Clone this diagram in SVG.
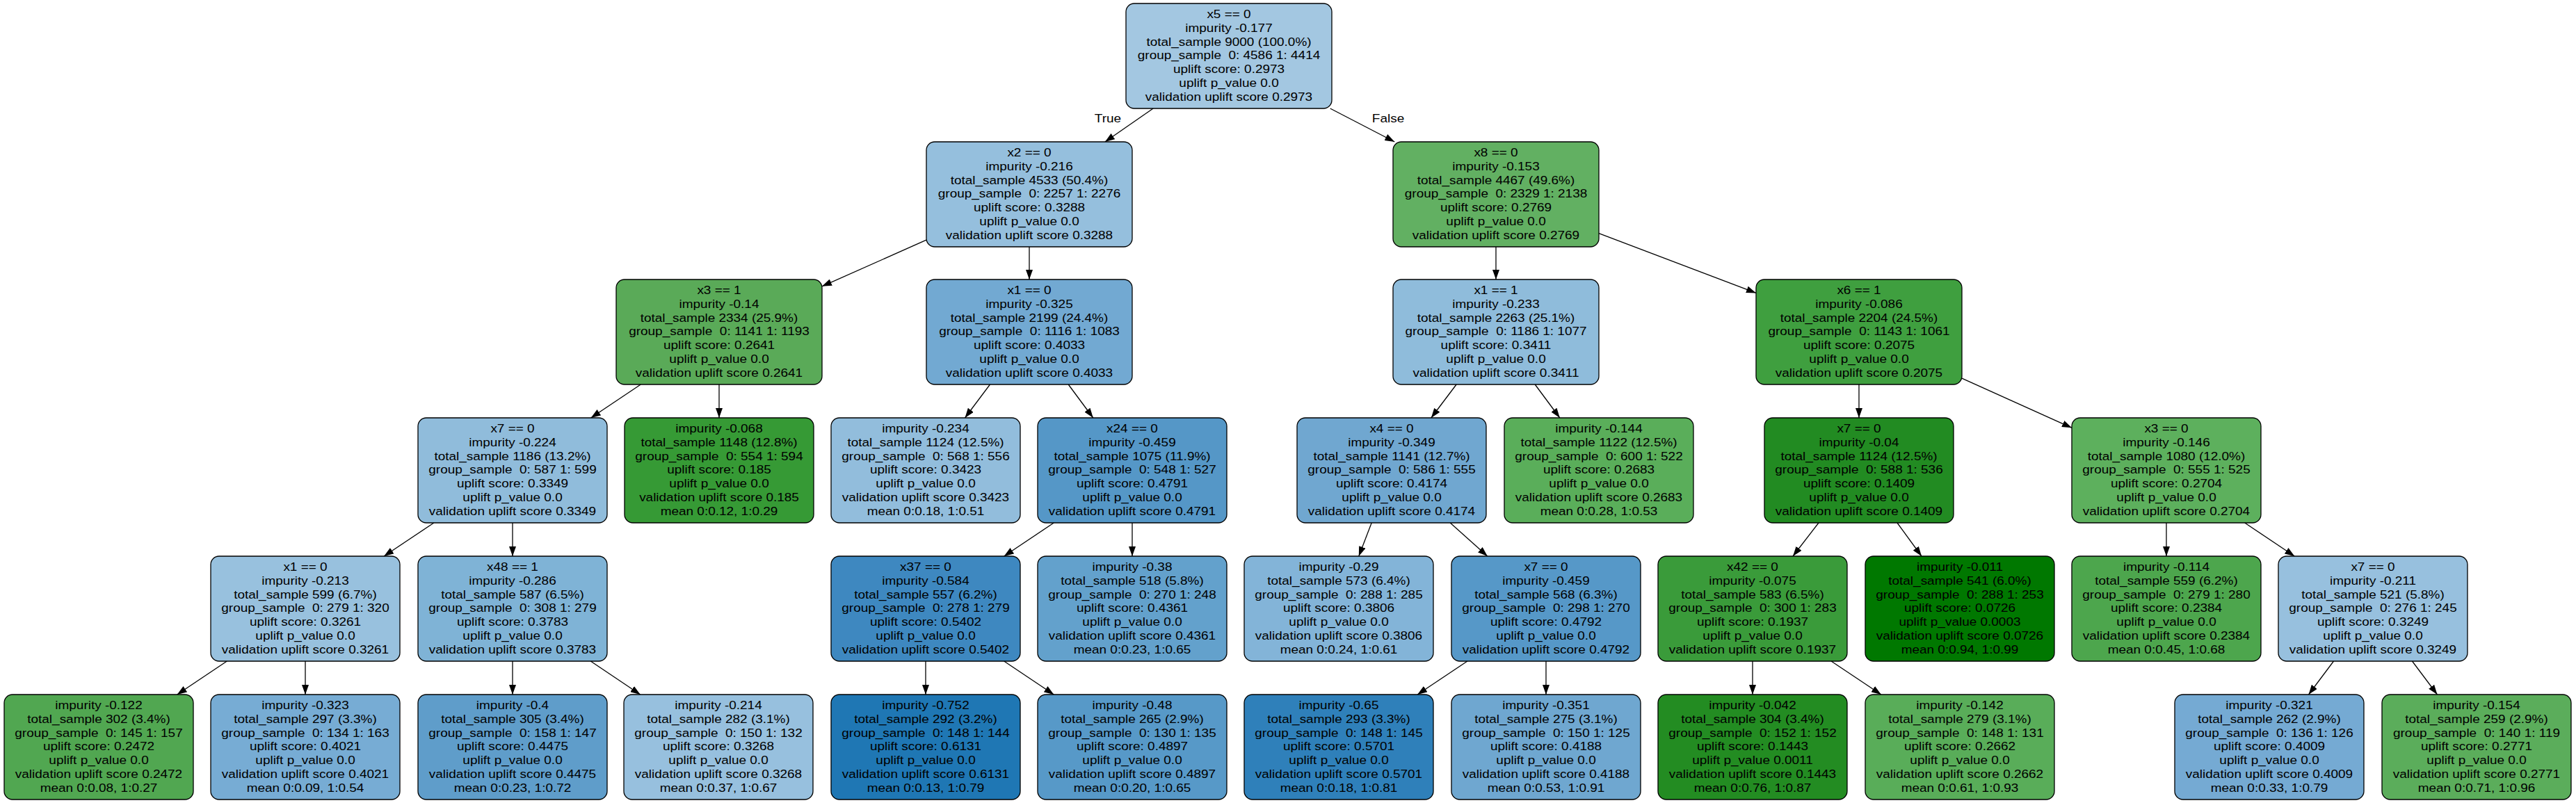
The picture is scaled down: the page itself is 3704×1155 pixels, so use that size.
<svg xmlns="http://www.w3.org/2000/svg" width="3704" height="1155" viewBox="0 0 3704 1155">
<style>
.node rect{stroke:#000;stroke-width:1.3}
text{font-family:"Liberation Sans",Arial,sans-serif;font-size:16.5px;fill:#000;text-anchor:middle;white-space:pre}
.edge{stroke:#000;stroke-width:1.3;fill:none;marker-end:url(#arr)}
</style>
<defs>
<marker id="arr" viewBox="0 0 14 10" refX="14" refY="5" markerWidth="14" markerHeight="10" markerUnits="userSpaceOnUse" orient="auto"><path d="M0,0 L14,5 L0,10 z" fill="#000"/></marker>
</defs>
<rect width="3704" height="1155" fill="#fff"/>
<g id="connectors">
<path class="edge" d="M1658.1,156 L1588.9,204"/>
<path class="edge" d="M1912.7,156 L2005.3,204"/>
<path class="edge" d="M1332,345.2 L1182,411.8"/>
<path class="edge" d="M1480,355 L1480,402"/>
<path class="edge" d="M2151,355 L2151,402"/>
<path class="edge" d="M2299,335.6 L2525,421.4"/>
<path class="edge" d="M921.3,553 L849.7,601"/>
<path class="edge" d="M1034,553 L1034,601"/>
<path class="edge" d="M1423.5,553 L1387.5,601"/>
<path class="edge" d="M1536.2,553 L1571.8,601"/>
<path class="edge" d="M2094.1,553 L2057.9,601"/>
<path class="edge" d="M2207.2,553 L2242.8,601"/>
<path class="edge" d="M2673,553 L2673,601"/>
<path class="edge" d="M2821,544.1 L2979,615.3"/>
<path class="edge" d="M623.9,752 L552.1,800"/>
<path class="edge" d="M737,752 L737,800"/>
<path class="edge" d="M1515.3,752 L1443.7,800"/>
<path class="edge" d="M1628,752 L1628,800"/>
<path class="edge" d="M1972.2,752 L1953.8,800"/>
<path class="edge" d="M2085.2,752 L2138.8,800"/>
<path class="edge" d="M2615,752 L2578,800"/>
<path class="edge" d="M2728,752 L2763,800"/>
<path class="edge" d="M3115,752 L3115,800"/>
<path class="edge" d="M3227.7,752 L3299.3,800"/>
<path class="edge" d="M326.3,951 L254.7,999"/>
<path class="edge" d="M439,951 L439,999"/>
<path class="edge" d="M737,951 L737,999"/>
<path class="edge" d="M849.3,951 L920.7,999"/>
<path class="edge" d="M1331,951 L1331,999"/>
<path class="edge" d="M1443.7,951 L1515.3,999"/>
<path class="edge" d="M2109.9,951 L2038.1,999"/>
<path class="edge" d="M2223,951 L2223,999"/>
<path class="edge" d="M2520,951 L2520,999"/>
<path class="edge" d="M2633.1,951 L2704.9,999"/>
<path class="edge" d="M3355.5,951 L3319.5,999"/>
<path class="edge" d="M3468.5,951 L3504.5,999"/>
<text transform="translate(1593,0) scale(1.15,1)" x="0" y="176">True</text>
<text transform="translate(1996,0) scale(1.15,1)" x="0" y="176">False</text>
</g>
<g id="n0" class="node"><rect x="1619" y="5" width="296" height="151" rx="12" fill="#a3c7e1"/><text transform="translate(1767,0) scale(1.15,1)"><tspan x="0" y="26">x5 == 0</tspan><tspan x="0" y="45.8">impurity -0.177</tspan><tspan x="0" y="65.6">total_sample 9000 (100.0%)</tspan><tspan x="0" y="85.4">group_sample  0: 4586 1: 4414</tspan><tspan x="0" y="105.2">uplift score: 0.2973</tspan><tspan x="0" y="125">uplift p_value 0.0</tspan><tspan x="0" y="144.8">validation uplift score 0.2973</tspan></text></g>
<g id="n1" class="node"><rect x="1332" y="204" width="296" height="151" rx="12" fill="#95bfdd"/><text transform="translate(1480,0) scale(1.15,1)"><tspan x="0" y="225">x2 == 0</tspan><tspan x="0" y="244.8">impurity -0.216</tspan><tspan x="0" y="264.6">total_sample 4533 (50.4%)</tspan><tspan x="0" y="284.4">group_sample  0: 2257 1: 2276</tspan><tspan x="0" y="304.2">uplift score: 0.3288</tspan><tspan x="0" y="324">uplift p_value 0.0</tspan><tspan x="0" y="343.8">validation uplift score 0.3288</tspan></text></g>
<g id="n2" class="node"><rect x="2003" y="204" width="296" height="151" rx="12" fill="#62b062"/><text transform="translate(2151,0) scale(1.15,1)"><tspan x="0" y="225">x8 == 0</tspan><tspan x="0" y="244.8">impurity -0.153</tspan><tspan x="0" y="264.6">total_sample 4467 (49.6%)</tspan><tspan x="0" y="284.4">group_sample  0: 2329 1: 2138</tspan><tspan x="0" y="304.2">uplift score: 0.2769</tspan><tspan x="0" y="324">uplift p_value 0.0</tspan><tspan x="0" y="343.8">validation uplift score 0.2769</tspan></text></g>
<g id="n3" class="node"><rect x="886" y="402" width="296" height="151" rx="12" fill="#5aaa58"/><text transform="translate(1034,0) scale(1.15,1)"><tspan x="0" y="423">x3 == 1</tspan><tspan x="0" y="442.8">impurity -0.14</tspan><tspan x="0" y="462.6">total_sample 2334 (25.9%)</tspan><tspan x="0" y="482.4">group_sample  0: 1141 1: 1193</tspan><tspan x="0" y="502.2">uplift score: 0.2641</tspan><tspan x="0" y="522">uplift p_value 0.0</tspan><tspan x="0" y="541.8">validation uplift score 0.2641</tspan></text></g>
<g id="n4" class="node"><rect x="1332" y="402" width="296" height="151" rx="12" fill="#72a9d2"/><text transform="translate(1480,0) scale(1.15,1)"><tspan x="0" y="423">x1 == 0</tspan><tspan x="0" y="442.8">impurity -0.325</tspan><tspan x="0" y="462.6">total_sample 2199 (24.4%)</tspan><tspan x="0" y="482.4">group_sample  0: 1116 1: 1083</tspan><tspan x="0" y="502.2">uplift score: 0.4033</tspan><tspan x="0" y="522">uplift p_value 0.0</tspan><tspan x="0" y="541.8">validation uplift score 0.4033</tspan></text></g>
<g id="n5" class="node"><rect x="2003" y="402" width="296" height="151" rx="12" fill="#8fbcdb"/><text transform="translate(2151,0) scale(1.15,1)"><tspan x="0" y="423">x1 == 1</tspan><tspan x="0" y="442.8">impurity -0.233</tspan><tspan x="0" y="462.6">total_sample 2263 (25.1%)</tspan><tspan x="0" y="482.4">group_sample  0: 1186 1: 1077</tspan><tspan x="0" y="502.2">uplift score: 0.3411</tspan><tspan x="0" y="522">uplift p_value 0.0</tspan><tspan x="0" y="541.8">validation uplift score 0.3411</tspan></text></g>
<g id="n6" class="node"><rect x="2525" y="402" width="296" height="151" rx="12" fill="#3f9f3f"/><text transform="translate(2673,0) scale(1.15,1)"><tspan x="0" y="423">x6 == 1</tspan><tspan x="0" y="442.8">impurity -0.086</tspan><tspan x="0" y="462.6">total_sample 2204 (24.5%)</tspan><tspan x="0" y="482.4">group_sample  0: 1143 1: 1061</tspan><tspan x="0" y="502.2">uplift score: 0.2075</tspan><tspan x="0" y="522">uplift p_value 0.0</tspan><tspan x="0" y="541.8">validation uplift score 0.2075</tspan></text></g>
<g id="n7" class="node"><rect x="601" y="601" width="272" height="151" rx="12" fill="#90bcdb"/><text transform="translate(737,0) scale(1.15,1)"><tspan x="0" y="622">x7 == 0</tspan><tspan x="0" y="641.8">impurity -0.224</tspan><tspan x="0" y="661.6">total_sample 1186 (13.2%)</tspan><tspan x="0" y="681.4">group_sample  0: 587 1: 599</tspan><tspan x="0" y="701.2">uplift score: 0.3349</tspan><tspan x="0" y="721">uplift p_value 0.0</tspan><tspan x="0" y="740.8">validation uplift score 0.3349</tspan></text></g>
<g id="n8" class="node"><rect x="898" y="601" width="272" height="151" rx="12" fill="#369a35"/><text transform="translate(1034,0) scale(1.15,1)"><tspan x="0" y="622">impurity -0.068</tspan><tspan x="0" y="641.8">total_sample 1148 (12.8%)</tspan><tspan x="0" y="661.6">group_sample  0: 554 1: 594</tspan><tspan x="0" y="681.4">uplift score: 0.185</tspan><tspan x="0" y="701.2">uplift p_value 0.0</tspan><tspan x="0" y="721">validation uplift score 0.185</tspan><tspan x="0" y="740.8">mean 0:0.12, 1:0.29</tspan></text></g>
<g id="n9" class="node"><rect x="1195" y="601" width="272" height="151" rx="12" fill="#92bddc"/><text transform="translate(1331,0) scale(1.15,1)"><tspan x="0" y="622">impurity -0.234</tspan><tspan x="0" y="641.8">total_sample 1124 (12.5%)</tspan><tspan x="0" y="661.6">group_sample  0: 568 1: 556</tspan><tspan x="0" y="681.4">uplift score: 0.3423</tspan><tspan x="0" y="701.2">uplift p_value 0.0</tspan><tspan x="0" y="721">validation uplift score 0.3423</tspan><tspan x="0" y="740.8">mean 0:0.18, 1:0.51</tspan></text></g>
<g id="n10" class="node"><rect x="1492" y="601" width="272" height="151" rx="12" fill="#5597c7"/><text transform="translate(1628,0) scale(1.15,1)"><tspan x="0" y="622">x24 == 0</tspan><tspan x="0" y="641.8">impurity -0.459</tspan><tspan x="0" y="661.6">total_sample 1075 (11.9%)</tspan><tspan x="0" y="681.4">group_sample  0: 548 1: 527</tspan><tspan x="0" y="701.2">uplift score: 0.4791</tspan><tspan x="0" y="721">uplift p_value 0.0</tspan><tspan x="0" y="740.8">validation uplift score 0.4791</tspan></text></g>
<g id="n11" class="node"><rect x="1865" y="601" width="272" height="151" rx="12" fill="#70a7d0"/><text transform="translate(2001,0) scale(1.15,1)"><tspan x="0" y="622">x4 == 0</tspan><tspan x="0" y="641.8">impurity -0.349</tspan><tspan x="0" y="661.6">total_sample 1141 (12.7%)</tspan><tspan x="0" y="681.4">group_sample  0: 586 1: 555</tspan><tspan x="0" y="701.2">uplift score: 0.4174</tspan><tspan x="0" y="721">uplift p_value 0.0</tspan><tspan x="0" y="740.8">validation uplift score 0.4174</tspan></text></g>
<g id="n12" class="node"><rect x="2163" y="601" width="272" height="151" rx="12" fill="#5aae5a"/><text transform="translate(2299,0) scale(1.15,1)"><tspan x="0" y="622">impurity -0.144</tspan><tspan x="0" y="641.8">total_sample 1122 (12.5%)</tspan><tspan x="0" y="661.6">group_sample  0: 600 1: 522</tspan><tspan x="0" y="681.4">uplift score: 0.2683</tspan><tspan x="0" y="701.2">uplift p_value 0.0</tspan><tspan x="0" y="721">validation uplift score 0.2683</tspan><tspan x="0" y="740.8">mean 0:0.28, 1:0.53</tspan></text></g>
<g id="n13" class="node"><rect x="2537" y="601" width="272" height="151" rx="12" fill="#228b22"/><text transform="translate(2673,0) scale(1.15,1)"><tspan x="0" y="622">x7 == 0</tspan><tspan x="0" y="641.8">impurity -0.04</tspan><tspan x="0" y="661.6">total_sample 1124 (12.5%)</tspan><tspan x="0" y="681.4">group_sample  0: 588 1: 536</tspan><tspan x="0" y="701.2">uplift score: 0.1409</tspan><tspan x="0" y="721">uplift p_value 0.0</tspan><tspan x="0" y="740.8">validation uplift score 0.1409</tspan></text></g>
<g id="n14" class="node"><rect x="2979" y="601" width="272" height="151" rx="12" fill="#5db05d"/><text transform="translate(3115,0) scale(1.15,1)"><tspan x="0" y="622">x3 == 0</tspan><tspan x="0" y="641.8">impurity -0.146</tspan><tspan x="0" y="661.6">total_sample 1080 (12.0%)</tspan><tspan x="0" y="681.4">group_sample  0: 555 1: 525</tspan><tspan x="0" y="701.2">uplift score: 0.2704</tspan><tspan x="0" y="721">uplift p_value 0.0</tspan><tspan x="0" y="740.8">validation uplift score 0.2704</tspan></text></g>
<g id="n15" class="node"><rect x="303" y="800" width="272" height="151" rx="12" fill="#98c1de"/><text transform="translate(439,0) scale(1.15,1)"><tspan x="0" y="821">x1 == 0</tspan><tspan x="0" y="840.8">impurity -0.213</tspan><tspan x="0" y="860.6">total_sample 599 (6.7%)</tspan><tspan x="0" y="880.4">group_sample  0: 279 1: 320</tspan><tspan x="0" y="900.2">uplift score: 0.3261</tspan><tspan x="0" y="920">uplift p_value 0.0</tspan><tspan x="0" y="939.8">validation uplift score 0.3261</tspan></text></g>
<g id="n16" class="node"><rect x="601" y="800" width="272" height="151" rx="12" fill="#7fb3d6"/><text transform="translate(737,0) scale(1.15,1)"><tspan x="0" y="821">x48 == 1</tspan><tspan x="0" y="840.8">impurity -0.286</tspan><tspan x="0" y="860.6">total_sample 587 (6.5%)</tspan><tspan x="0" y="880.4">group_sample  0: 308 1: 279</tspan><tspan x="0" y="900.2">uplift score: 0.3783</tspan><tspan x="0" y="920">uplift p_value 0.0</tspan><tspan x="0" y="939.8">validation uplift score 0.3783</tspan></text></g>
<g id="n17" class="node"><rect x="1195" y="800" width="272" height="151" rx="12" fill="#3e88c0"/><text transform="translate(1331,0) scale(1.15,1)"><tspan x="0" y="821">x37 == 0</tspan><tspan x="0" y="840.8">impurity -0.584</tspan><tspan x="0" y="860.6">total_sample 557 (6.2%)</tspan><tspan x="0" y="880.4">group_sample  0: 278 1: 279</tspan><tspan x="0" y="900.2">uplift score: 0.5402</tspan><tspan x="0" y="920">uplift p_value 0.0</tspan><tspan x="0" y="939.8">validation uplift score 0.5402</tspan></text></g>
<g id="n18" class="node"><rect x="1492" y="800" width="272" height="151" rx="12" fill="#63a1cc"/><text transform="translate(1628,0) scale(1.15,1)"><tspan x="0" y="821">impurity -0.38</tspan><tspan x="0" y="840.8">total_sample 518 (5.8%)</tspan><tspan x="0" y="860.6">group_sample  0: 270 1: 248</tspan><tspan x="0" y="880.4">uplift score: 0.4361</tspan><tspan x="0" y="900.2">uplift p_value 0.0</tspan><tspan x="0" y="920">validation uplift score 0.4361</tspan><tspan x="0" y="939.8">mean 0:0.23, 1:0.65</tspan></text></g>
<g id="n19" class="node"><rect x="1789" y="800" width="272" height="151" rx="12" fill="#83b4d8"/><text transform="translate(1925,0) scale(1.15,1)"><tspan x="0" y="821">impurity -0.29</tspan><tspan x="0" y="840.8">total_sample 573 (6.4%)</tspan><tspan x="0" y="860.6">group_sample  0: 288 1: 285</tspan><tspan x="0" y="880.4">uplift score: 0.3806</tspan><tspan x="0" y="900.2">uplift p_value 0.0</tspan><tspan x="0" y="920">validation uplift score 0.3806</tspan><tspan x="0" y="939.8">mean 0:0.24, 1:0.61</tspan></text></g>
<g id="n20" class="node"><rect x="2087" y="800" width="272" height="151" rx="12" fill="#5698c8"/><text transform="translate(2223,0) scale(1.15,1)"><tspan x="0" y="821">x7 == 0</tspan><tspan x="0" y="840.8">impurity -0.459</tspan><tspan x="0" y="860.6">total_sample 568 (6.3%)</tspan><tspan x="0" y="880.4">group_sample  0: 298 1: 270</tspan><tspan x="0" y="900.2">uplift score: 0.4792</tspan><tspan x="0" y="920">uplift p_value 0.0</tspan><tspan x="0" y="939.8">validation uplift score 0.4792</tspan></text></g>
<g id="n21" class="node"><rect x="2384" y="800" width="272" height="151" rx="12" fill="#3a9b3a"/><text transform="translate(2520,0) scale(1.15,1)"><tspan x="0" y="821">x42 == 0</tspan><tspan x="0" y="840.8">impurity -0.075</tspan><tspan x="0" y="860.6">total_sample 583 (6.5%)</tspan><tspan x="0" y="880.4">group_sample  0: 300 1: 283</tspan><tspan x="0" y="900.2">uplift score: 0.1937</tspan><tspan x="0" y="920">uplift p_value 0.0</tspan><tspan x="0" y="939.8">validation uplift score 0.1937</tspan></text></g>
<g id="n22" class="node"><rect x="2682" y="800" width="272" height="151" rx="12" fill="#007800"/><text transform="translate(2818,0) scale(1.15,1)"><tspan x="0" y="821">impurity -0.011</tspan><tspan x="0" y="840.8">total_sample 541 (6.0%)</tspan><tspan x="0" y="860.6">group_sample  0: 288 1: 253</tspan><tspan x="0" y="880.4">uplift score: 0.0726</tspan><tspan x="0" y="900.2">uplift p_value 0.0003</tspan><tspan x="0" y="920">validation uplift score 0.0726</tspan><tspan x="0" y="939.8">mean 0:0.94, 1:0.99</tspan></text></g>
<g id="n23" class="node"><rect x="2979" y="800" width="272" height="151" rx="12" fill="#4da64d"/><text transform="translate(3115,0) scale(1.15,1)"><tspan x="0" y="821">impurity -0.114</tspan><tspan x="0" y="840.8">total_sample 559 (6.2%)</tspan><tspan x="0" y="860.6">group_sample  0: 279 1: 280</tspan><tspan x="0" y="880.4">uplift score: 0.2384</tspan><tspan x="0" y="900.2">uplift p_value 0.0</tspan><tspan x="0" y="920">validation uplift score 0.2384</tspan><tspan x="0" y="939.8">mean 0:0.45, 1:0.68</tspan></text></g>
<g id="n24" class="node"><rect x="3276" y="800" width="272" height="151" rx="12" fill="#97c0de"/><text transform="translate(3412,0) scale(1.15,1)"><tspan x="0" y="821">x7 == 0</tspan><tspan x="0" y="840.8">impurity -0.211</tspan><tspan x="0" y="860.6">total_sample 521 (5.8%)</tspan><tspan x="0" y="880.4">group_sample  0: 276 1: 245</tspan><tspan x="0" y="900.2">uplift score: 0.3249</tspan><tspan x="0" y="920">uplift p_value 0.0</tspan><tspan x="0" y="939.8">validation uplift score 0.3249</tspan></text></g>
<g id="n25" class="node"><rect x="6" y="999" width="272" height="151" rx="12" fill="#51a751"/><text transform="translate(142,0) scale(1.15,1)"><tspan x="0" y="1020">impurity -0.122</tspan><tspan x="0" y="1039.8">total_sample 302 (3.4%)</tspan><tspan x="0" y="1059.6">group_sample  0: 145 1: 157</tspan><tspan x="0" y="1079.4">uplift score: 0.2472</tspan><tspan x="0" y="1099.2">uplift p_value 0.0</tspan><tspan x="0" y="1119">validation uplift score 0.2472</tspan><tspan x="0" y="1138.8">mean 0:0.08, 1:0.27</tspan></text></g>
<g id="n26" class="node"><rect x="303" y="999" width="272" height="151" rx="12" fill="#77acd4"/><text transform="translate(439,0) scale(1.15,1)"><tspan x="0" y="1020">impurity -0.323</tspan><tspan x="0" y="1039.8">total_sample 297 (3.3%)</tspan><tspan x="0" y="1059.6">group_sample  0: 134 1: 163</tspan><tspan x="0" y="1079.4">uplift score: 0.4021</tspan><tspan x="0" y="1099.2">uplift p_value 0.0</tspan><tspan x="0" y="1119">validation uplift score 0.4021</tspan><tspan x="0" y="1138.8">mean 0:0.09, 1:0.54</tspan></text></g>
<g id="n27" class="node"><rect x="601" y="999" width="272" height="151" rx="12" fill="#5f9dca"/><text transform="translate(737,0) scale(1.15,1)"><tspan x="0" y="1020">impurity -0.4</tspan><tspan x="0" y="1039.8">total_sample 305 (3.4%)</tspan><tspan x="0" y="1059.6">group_sample  0: 158 1: 147</tspan><tspan x="0" y="1079.4">uplift score: 0.4475</tspan><tspan x="0" y="1099.2">uplift p_value 0.0</tspan><tspan x="0" y="1119">validation uplift score 0.4475</tspan><tspan x="0" y="1138.8">mean 0:0.23, 1:0.72</tspan></text></g>
<g id="n28" class="node"><rect x="897" y="999" width="272" height="151" rx="12" fill="#97c0de"/><text transform="translate(1033,0) scale(1.15,1)"><tspan x="0" y="1020">impurity -0.214</tspan><tspan x="0" y="1039.8">total_sample 282 (3.1%)</tspan><tspan x="0" y="1059.6">group_sample  0: 150 1: 132</tspan><tspan x="0" y="1079.4">uplift score: 0.3268</tspan><tspan x="0" y="1099.2">uplift p_value 0.0</tspan><tspan x="0" y="1119">validation uplift score 0.3268</tspan><tspan x="0" y="1138.8">mean 0:0.37, 1:0.67</tspan></text></g>
<g id="n29" class="node"><rect x="1195" y="999" width="272" height="151" rx="12" fill="#1f77b4"/><text transform="translate(1331,0) scale(1.15,1)"><tspan x="0" y="1020">impurity -0.752</tspan><tspan x="0" y="1039.8">total_sample 292 (3.2%)</tspan><tspan x="0" y="1059.6">group_sample  0: 148 1: 144</tspan><tspan x="0" y="1079.4">uplift score: 0.6131</tspan><tspan x="0" y="1099.2">uplift p_value 0.0</tspan><tspan x="0" y="1119">validation uplift score 0.6131</tspan><tspan x="0" y="1138.8">mean 0:0.13, 1:0.79</tspan></text></g>
<g id="n30" class="node"><rect x="1492" y="999" width="272" height="151" rx="12" fill="#5799c8"/><text transform="translate(1628,0) scale(1.15,1)"><tspan x="0" y="1020">impurity -0.48</tspan><tspan x="0" y="1039.8">total_sample 265 (2.9%)</tspan><tspan x="0" y="1059.6">group_sample  0: 130 1: 135</tspan><tspan x="0" y="1079.4">uplift score: 0.4897</tspan><tspan x="0" y="1099.2">uplift p_value 0.0</tspan><tspan x="0" y="1119">validation uplift score 0.4897</tspan><tspan x="0" y="1138.8">mean 0:0.20, 1:0.65</tspan></text></g>
<g id="n31" class="node"><rect x="1789" y="999" width="272" height="151" rx="12" fill="#2f80ba"/><text transform="translate(1925,0) scale(1.15,1)"><tspan x="0" y="1020">impurity -0.65</tspan><tspan x="0" y="1039.8">total_sample 293 (3.3%)</tspan><tspan x="0" y="1059.6">group_sample  0: 148 1: 145</tspan><tspan x="0" y="1079.4">uplift score: 0.5701</tspan><tspan x="0" y="1099.2">uplift p_value 0.0</tspan><tspan x="0" y="1119">validation uplift score 0.5701</tspan><tspan x="0" y="1138.8">mean 0:0.18, 1:0.81</tspan></text></g>
<g id="n32" class="node"><rect x="2087" y="999" width="272" height="151" rx="12" fill="#6fa7d0"/><text transform="translate(2223,0) scale(1.15,1)"><tspan x="0" y="1020">impurity -0.351</tspan><tspan x="0" y="1039.8">total_sample 275 (3.1%)</tspan><tspan x="0" y="1059.6">group_sample  0: 150 1: 125</tspan><tspan x="0" y="1079.4">uplift score: 0.4188</tspan><tspan x="0" y="1099.2">uplift p_value 0.0</tspan><tspan x="0" y="1119">validation uplift score 0.4188</tspan><tspan x="0" y="1138.8">mean 0:0.53, 1:0.91</tspan></text></g>
<g id="n33" class="node"><rect x="2384" y="999" width="272" height="151" rx="12" fill="#238c22"/><text transform="translate(2520,0) scale(1.15,1)"><tspan x="0" y="1020">impurity -0.042</tspan><tspan x="0" y="1039.8">total_sample 304 (3.4%)</tspan><tspan x="0" y="1059.6">group_sample  0: 152 1: 152</tspan><tspan x="0" y="1079.4">uplift score: 0.1443</tspan><tspan x="0" y="1099.2">uplift p_value 0.0011</tspan><tspan x="0" y="1119">validation uplift score 0.1443</tspan><tspan x="0" y="1138.8">mean 0:0.76, 1:0.87</tspan></text></g>
<g id="n34" class="node"><rect x="2682" y="999" width="272" height="151" rx="12" fill="#59ad59"/><text transform="translate(2818,0) scale(1.15,1)"><tspan x="0" y="1020">impurity -0.142</tspan><tspan x="0" y="1039.8">total_sample 279 (3.1%)</tspan><tspan x="0" y="1059.6">group_sample  0: 148 1: 131</tspan><tspan x="0" y="1079.4">uplift score: 0.2662</tspan><tspan x="0" y="1099.2">uplift p_value 0.0</tspan><tspan x="0" y="1119">validation uplift score 0.2662</tspan><tspan x="0" y="1138.8">mean 0:0.61, 1:0.93</tspan></text></g>
<g id="n35" class="node"><rect x="3127" y="999" width="272" height="151" rx="12" fill="#75aad3"/><text transform="translate(3263,0) scale(1.15,1)"><tspan x="0" y="1020">impurity -0.321</tspan><tspan x="0" y="1039.8">total_sample 262 (2.9%)</tspan><tspan x="0" y="1059.6">group_sample  0: 136 1: 126</tspan><tspan x="0" y="1079.4">uplift score: 0.4009</tspan><tspan x="0" y="1099.2">uplift p_value 0.0</tspan><tspan x="0" y="1119">validation uplift score 0.4009</tspan><tspan x="0" y="1138.8">mean 0:0.33, 1:0.79</tspan></text></g>
<g id="n36" class="node"><rect x="3425" y="999" width="272" height="151" rx="12" fill="#5bad5b"/><text transform="translate(3561,0) scale(1.15,1)"><tspan x="0" y="1020">impurity -0.154</tspan><tspan x="0" y="1039.8">total_sample 259 (2.9%)</tspan><tspan x="0" y="1059.6">group_sample  0: 140 1: 119</tspan><tspan x="0" y="1079.4">uplift score: 0.2771</tspan><tspan x="0" y="1099.2">uplift p_value 0.0</tspan><tspan x="0" y="1119">validation uplift score 0.2771</tspan><tspan x="0" y="1138.8">mean 0:0.71, 1:0.96</tspan></text></g>
</svg>
